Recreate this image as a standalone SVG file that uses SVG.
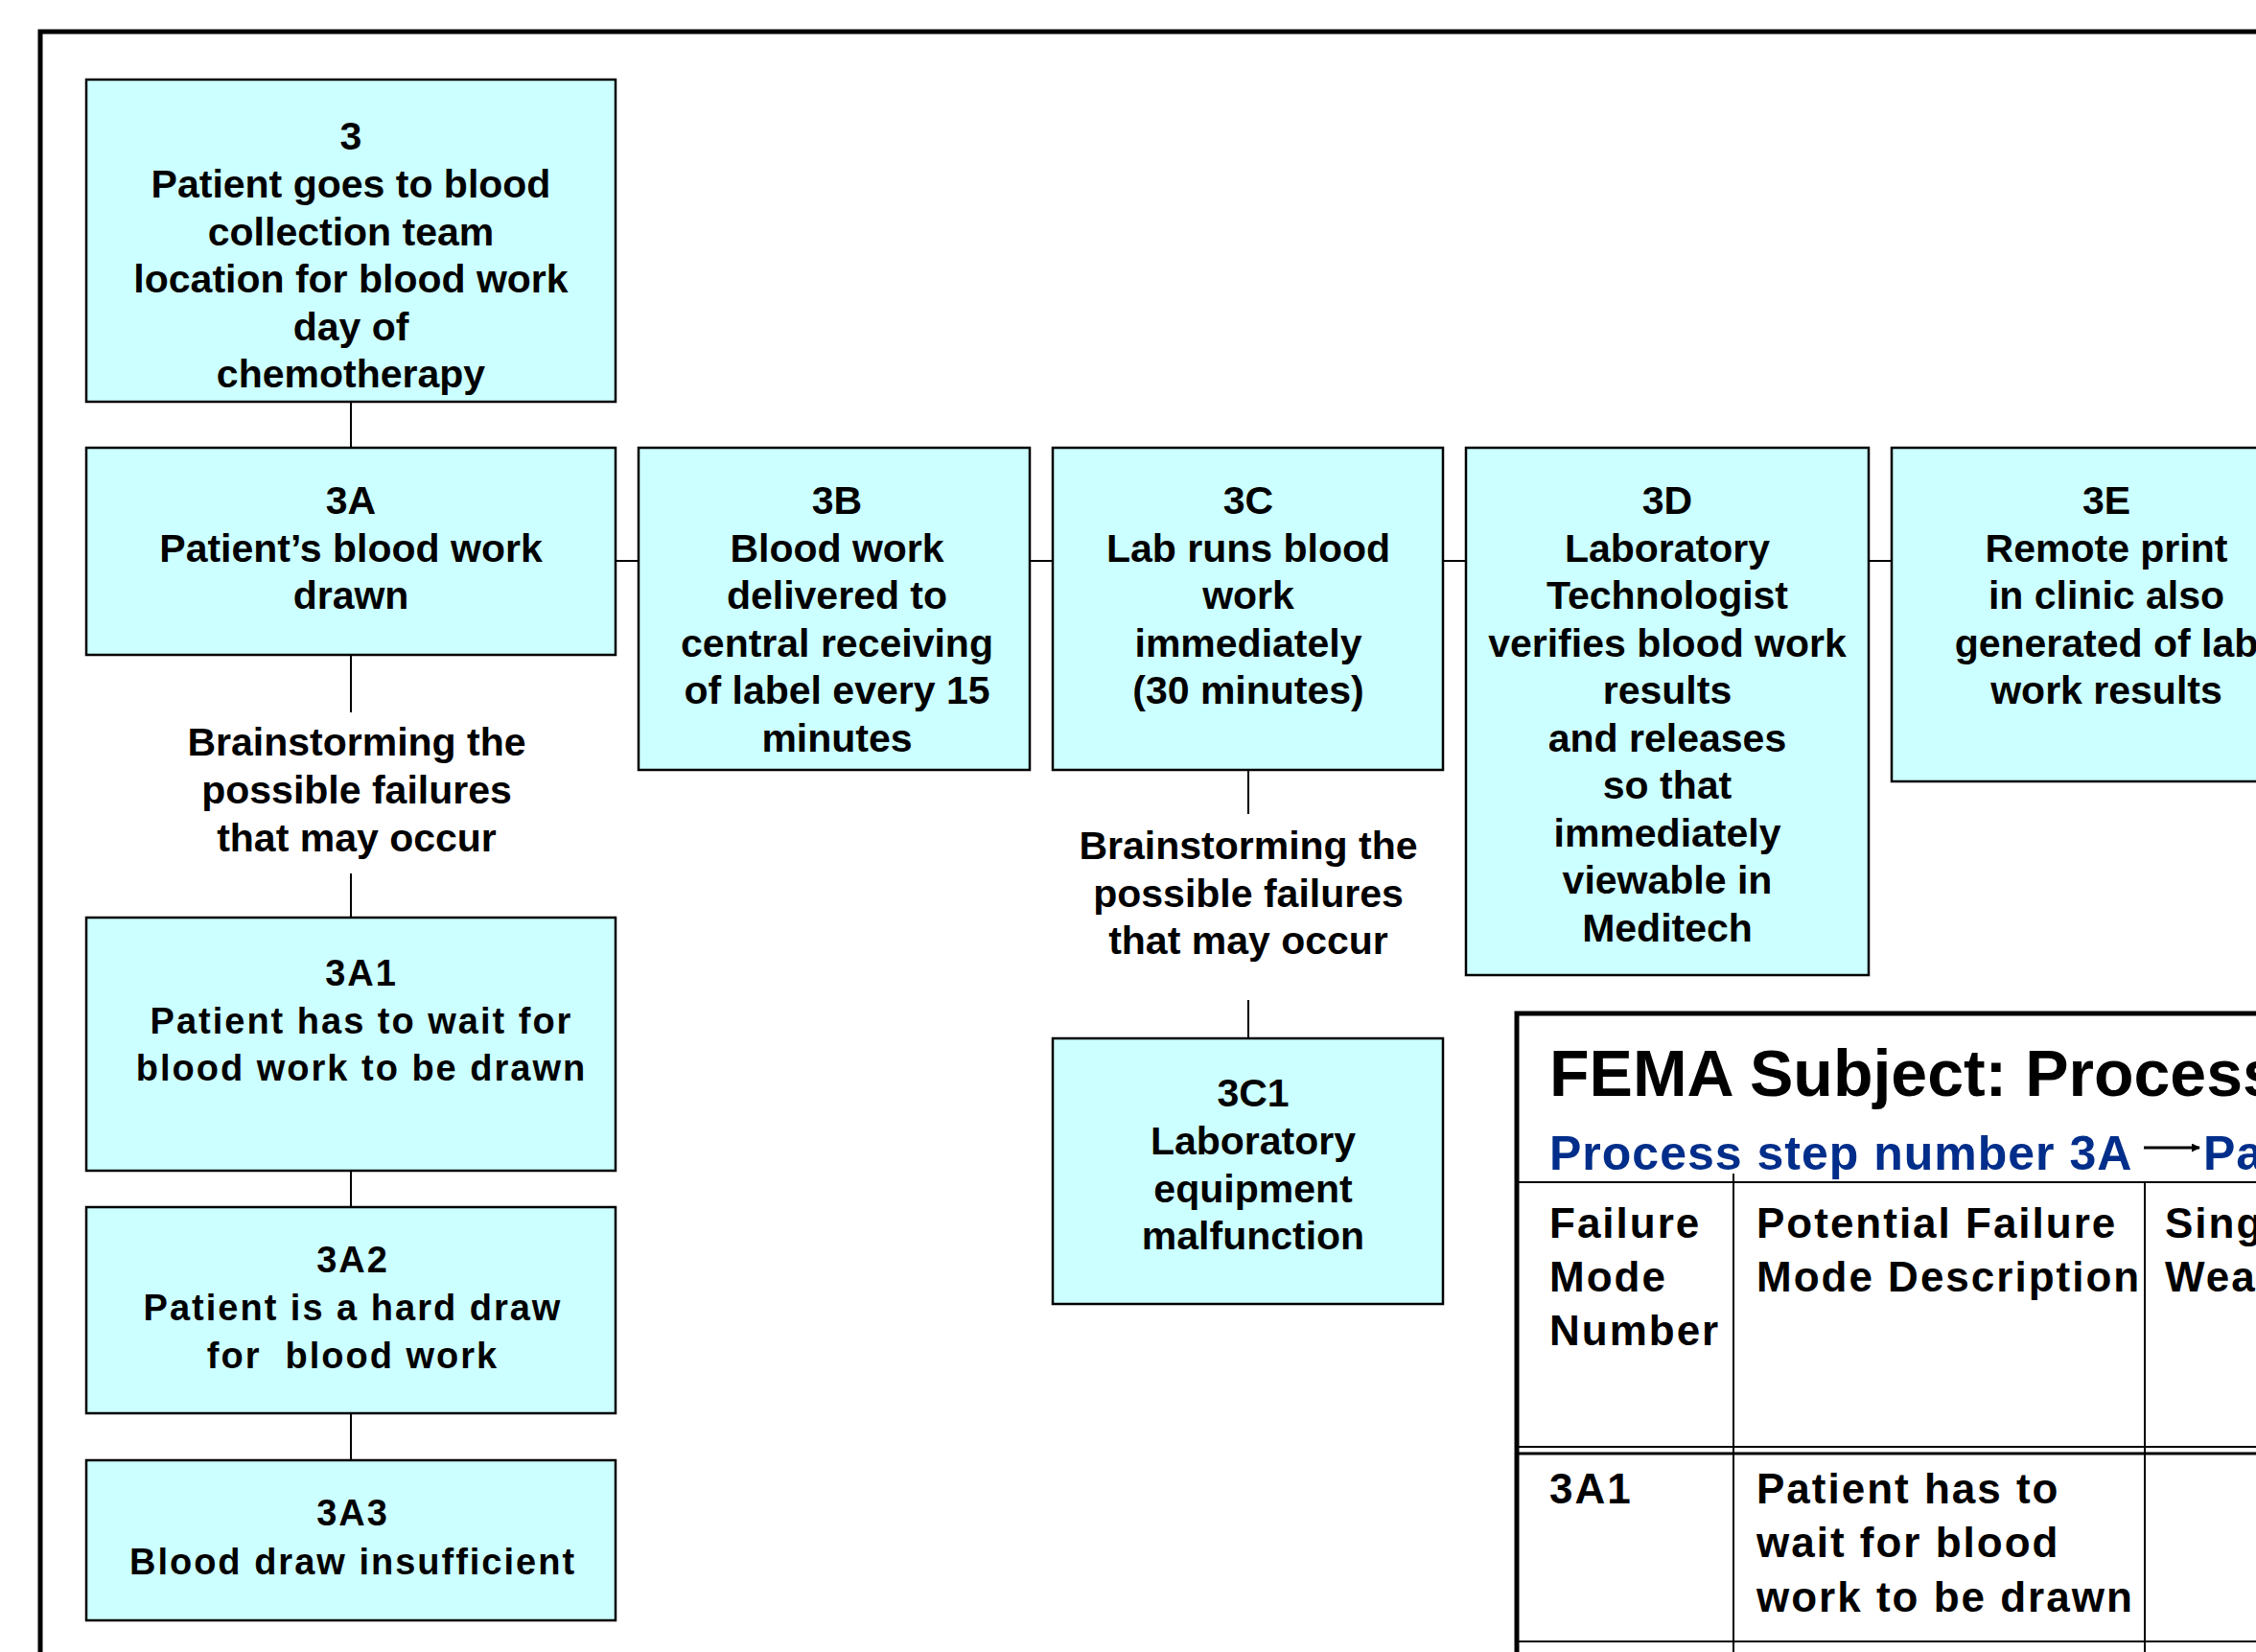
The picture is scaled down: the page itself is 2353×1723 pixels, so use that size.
<svg xmlns="http://www.w3.org/2000/svg" width="2353" height="1723" viewBox="0 0 2353 1723">
<style>
.box{fill:#CCFFFF;stroke:#000;stroke-width:2.5}
.t{font-family:"Liberation Sans",Arial,sans-serif;font-weight:bold;font-size:41px;fill:#000;text-anchor:middle}
.s{font-family:"Liberation Sans",Arial,sans-serif;font-weight:bold;font-size:38px;letter-spacing:2px;fill:#000;text-anchor:middle}
.tb{font-family:"Liberation Sans",Arial,sans-serif;font-weight:bold;font-size:44px;letter-spacing:2px;fill:#000}
.ttl{font-family:"Liberation Sans",Arial,sans-serif;font-weight:bold;font-size:68px;fill:#000}
.sub{font-family:"Liberation Sans",Arial,sans-serif;font-weight:bold;font-size:50px;letter-spacing:1px;fill:#002E8A}
.c{stroke:#000;stroke-width:2;fill:none}
.g{stroke:#000;stroke-width:2;fill:none}
</style>
<defs>
<marker id="ah" markerWidth="9" markerHeight="9" refX="8" refY="4.5" orient="auto" markerUnits="userSpaceOnUse">
<path d="M0,0 L9,4.5 L0,9 Z" fill="#000"/>
</marker>
</defs>
<rect width="2353" height="1723" fill="#fff"/>
<!-- outer frame -->
<path d="M42,1723 L42,33 L2353,33" fill="none" stroke="#000" stroke-width="5"/>

<g id="connectors">
<line class="c" x1="366" y1="419" x2="366" y2="467"/>
<line class="c" x1="642" y1="585" x2="666" y2="585"/>
<line class="c" x1="1074" y1="585" x2="1098" y2="585"/>
<line class="c" x1="1505" y1="585" x2="1529" y2="585"/>
<line class="c" x1="1949" y1="585" x2="1973" y2="585"/>
<line class="c" x1="366" y1="683" x2="366" y2="743"/>
<line class="c" x1="366" y1="911" x2="366" y2="957"/>
<line class="c" x1="366" y1="1221" x2="366" y2="1259"/>
<line class="c" x1="366" y1="1474" x2="366" y2="1523"/>
<line class="c" x1="1302" y1="803" x2="1302" y2="849"/>
<line class="c" x1="1302" y1="1043" x2="1302" y2="1083"/>
</g>

<g id="n3">
<rect class="box" x="90" y="83" width="552" height="336"/>
<text class="t" x="366" y="156">3</text>
<text class="t" x="366" y="206">Patient goes to blood</text>
<text class="t" x="366" y="256">collection team</text>
<text class="t" x="366" y="305">location for blood work</text>
<text class="t" x="366" y="355">day of</text>
<text class="t" x="366" y="404">chemotherapy</text>
</g>

<g id="n3A">
<rect class="box" x="90" y="467" width="552" height="216"/>
<text class="t" x="366" y="536">3A</text>
<text class="t" x="366" y="586">Patient’s blood work</text>
<text class="t" x="366" y="635">drawn</text>
</g>

<g id="n3B">
<rect class="box" x="666" y="467" width="408" height="336"/>
<text class="t" x="873" y="536">3B</text>
<text class="t" x="873" y="586">Blood work</text>
<text class="t" x="873" y="635">delivered to</text>
<text class="t" x="873" y="685">central receiving</text>
<text class="t" x="873" y="734">of label every 15</text>
<text class="t" x="873" y="784">minutes</text>
</g>

<g id="n3C">
<rect class="box" x="1098" y="467" width="407" height="336"/>
<text class="t" x="1302" y="536">3C</text>
<text class="t" x="1302" y="586">Lab runs blood</text>
<text class="t" x="1302" y="635">work</text>
<text class="t" x="1302" y="685">immediately</text>
<text class="t" x="1302" y="734">(30 minutes)</text>
</g>

<g id="n3D">
<rect class="box" x="1529" y="467" width="420" height="550"/>
<text class="t" x="1739" y="536">3D</text>
<text class="t" x="1739" y="586">Laboratory</text>
<text class="t" x="1739" y="635">Technologist</text>
<text class="t" x="1739" y="685">verifies blood work</text>
<text class="t" x="1739" y="734">results</text>
<text class="t" x="1739" y="784">and releases</text>
<text class="t" x="1739" y="833">so that</text>
<text class="t" x="1739" y="883">immediately</text>
<text class="t" x="1739" y="932">viewable in</text>
<text class="t" x="1739" y="982">Meditech</text>
</g>

<g id="n3E">
<rect class="box" x="1973" y="467" width="430" height="348"/>
<text class="t" x="2197" y="536">3E</text>
<text class="t" x="2197" y="586">Remote print</text>
<text class="t" x="2197" y="635">in clinic also</text>
<text class="t" x="2197" y="685">generated of lab</text>
<text class="t" x="2197" y="734">work results</text>
</g>

<g id="lbl3A">
<text class="t" x="372" y="788">Brainstorming the</text>
<text class="t" x="372" y="838">possible failures</text>
<text class="t" x="372" y="888">that may occur</text>
</g>

<g id="lbl3C">
<text class="t" x="1302" y="896">Brainstorming the</text>
<text class="t" x="1302" y="946">possible failures</text>
<text class="t" x="1302" y="995">that may occur</text>
</g>

<g id="n3A1">
<rect class="box" x="90" y="957" width="552" height="264"/>
<text class="s" x="377" y="1028">3A1</text>
<text class="s" x="377" y="1078">Patient has to wait for</text>
<text class="s" x="377" y="1127">blood work to be drawn</text>
</g>

<g id="n3A2">
<rect class="box" x="90" y="1259" width="552" height="215"/>
<text class="s" x="368" y="1327">3A2</text>
<text class="s" x="368" y="1377">Patient is a hard draw</text>
<text class="s" x="368" y="1427" xml:space="preserve">for  blood work</text>
</g>

<g id="n3A3">
<rect class="box" x="90" y="1523" width="552" height="167"/>
<text class="s" x="368" y="1591">3A3</text>
<text class="s" x="368" y="1642">Blood draw insufficient</text>
</g>

<g id="n3C1">
<rect class="box" x="1098" y="1083" width="407" height="277"/>
<text class="t" x="1307" y="1154">3C1</text>
<text class="t" x="1307" y="1204">Laboratory</text>
<text class="t" x="1307" y="1254">equipment</text>
<text class="t" x="1307" y="1303">malfunction</text>
</g>

<g id="fema-table">
<path d="M1582,1723 L1582,1057 L2353,1057" fill="none" stroke="#000" stroke-width="5"/>
<text class="ttl" x="1616" y="1143">FEMA Subject: Process</text>
<text class="sub" x="1616" y="1220">Process step number 3A</text>
<line x1="2236" y1="1197" x2="2294" y2="1197" stroke="#000" stroke-width="3" marker-end="url(#ah)"/>
<text class="sub" x="2298" y="1220">Pa</text>
<line class="g" x1="1580" y1="1233" x2="2353" y2="1233"/>
<line class="g" x1="1808" y1="1224" x2="1808" y2="1723"/>
<line class="g" x1="2237" y1="1233" x2="2237" y2="1723"/>
<line x1="1580" y1="1509" x2="2353" y2="1509" stroke="#000" stroke-width="2"/>
<line x1="1580" y1="1516" x2="2353" y2="1516" stroke="#000" stroke-width="3"/>
<line class="g" x1="1580" y1="1712" x2="2353" y2="1712"/>
<text class="tb" x="1616" y="1291">Failure</text>
<text class="tb" x="1616" y="1347">Mode</text>
<text class="tb" x="1616" y="1403">Number</text>
<text class="tb" x="1832" y="1291">Potential Failure</text>
<text class="tb" x="1832" y="1347">Mode Description</text>
<text class="tb" x="2258" y="1291">Sing</text>
<text class="tb" x="2258" y="1347">Wea</text>
<text class="tb" x="1616" y="1568">3A1</text>
<text class="tb" x="1832" y="1568">Patient has to</text>
<text class="tb" x="1832" y="1624">wait for blood</text>
<text class="tb" x="1832" y="1681">work to be drawn</text>
</g>
</svg>
